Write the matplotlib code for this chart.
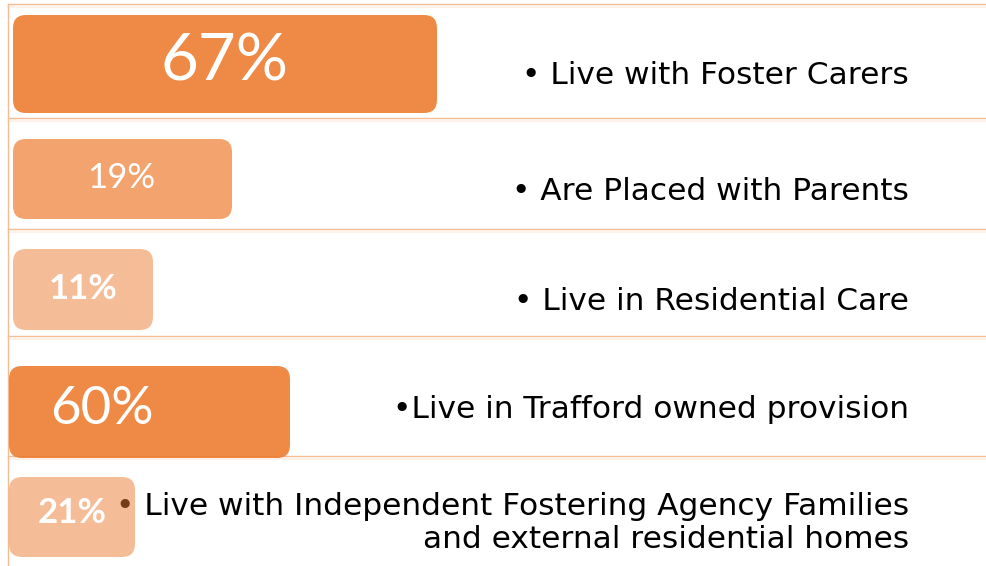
import matplotlib
matplotlib.use("Agg")
import matplotlib.pyplot as plt
from matplotlib.patches import FancyBboxPatch

# data
pct = [67, 19, 11, 60, 21]
pct_labels = ["67%", "19%", "11%", "60%", "21%"]
row_text = [
    "\u2022 Live with Foster Carers",
    "\u2022 Are Placed with Parents",
    "\u2022 Live in Residential Care",
    "\u2022Live in Trafford owned provision",
    "\u2022 Live with Independent Fostering Agency Families\nand external residential homes",
]
# bar lengths as drawn in the slide (not proportional to pct)
bar_len = [424, 219, 140, 281, 126]

# layout, in pixel units of the 987x566 slide
W, H = 987, 566
row_lines = [4, 118, 229, 336, 456]
bar_x0 = [13, 13, 13, 9, 9]
bar_top = [15, 139, 249, 366, 477]
bar_bot = [113, 219, 330, 458, 557]
bar_alpha = [0.9, 0.7, 0.5, 0.9, 0.5]
pct_xy = [(224, 62), (121, 178), (83, 289), (102, 410), (72, 513)]
pct_size = [47, 25, 25, 38, 25]
pct_weight = ["normal", "normal", "bold", "normal", "bold"]
text_y = [76, 191, 301, 409, 523]

orange = "#ED7D31"
line_col = "#F5BC94"

fig = plt.figure(figsize=(W / 100, H / 100), dpi=100)
ax = fig.add_axes([0, 0, 1, 1])
ax.set_xlim(0, W)
ax.set_ylim(H, 0)
ax.axis("off")

# frame lines
ax.plot([8, 8], [row_lines[0], H], color=line_col, lw=1.0, zorder=1)
for y in row_lines:
    ax.plot([8, W], [y, y], color=line_col, lw=1.0, zorder=1)
    ax.plot([8, W], [y + 3, y + 3], color="#FDF1E9", lw=1.5, zorder=0)

for i in range(len(pct)):
    box = FancyBboxPatch((bar_x0[i], bar_top[i]), bar_len[i], bar_bot[i] - bar_top[i],
                         boxstyle="round,pad=0,rounding_size=13",
                         facecolor=orange, alpha=bar_alpha[i], edgecolor="none",
                         zorder=3)
    ax.add_patch(box)
    ax.text(pct_xy[i][0], pct_xy[i][1], pct_labels[i], color="white",
            fontsize=pct_size[i], fontweight=pct_weight[i], family="Lato",
            ha="center", va="center", zorder=4)
    ax.text(909, text_y[i], row_text[i], color="black", fontsize=22.5, family="DejaVu Sans",
            ha="right", va="center", multialignment="right", linespacing=1.2,
            zorder=2)

fig.savefig("out.png", dpi=100)
